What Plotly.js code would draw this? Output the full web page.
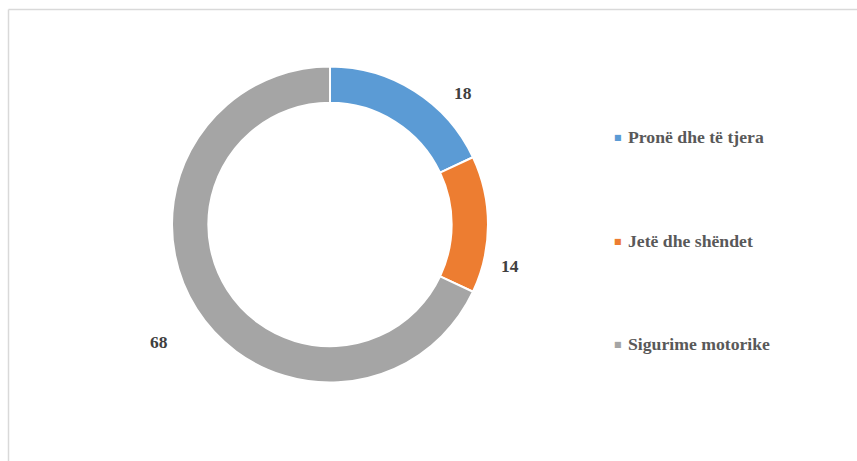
<!DOCTYPE html>
<html>
<head>
<meta charset="utf-8">
<script src="https://cdn.plot.ly/plotly-3.0.1.min.js"></script>
<style>html,body{margin:0;padding:0;background:#fff;}#chart{width:857px;height:461px;}</style>
</head>
<body>
<div id="chart"></div>
<script>
const categories = ["Pronë dhe të tjera", "Jetë dhe shëndet", "Sigurime motorike"];
const values = [18, 14, 68];
const colors = ["#5B9BD5", "#ED7D31", "#A5A5A5"];

const W = 857, H = 461;
const cx = 330, cy = 224.5, R = 158;
const px = x => x / W;
const py = y => 1 - y / H;

// label placement (layout positions, in pixels)
const labelPos = [[463, 93], [510, 266], [159, 342]];
const legendY = [137, 241, 344];
const legendX = 626;

const annotations = [];
values.forEach((v, i) => {
  annotations.push({
    xref: 'paper', yref: 'paper', x: px(labelPos[i][0]), y: py(labelPos[i][1]),
    xanchor: 'center', yanchor: 'middle', showarrow: false,
    text: '<b>' + String(v) + '</b>',
    font: {family: 'Liberation Serif, Times New Roman, serif', size: 17.5, color: '#404040'}
  });
});
categories.forEach((c, i) => {
  annotations.push({
    xref: 'paper', yref: 'paper', x: px(legendX - 2), y: py(legendY[i]),
    xanchor: 'right', yanchor: 'middle', showarrow: false,
    text: '■', font: {family: 'DejaVu Sans', size: 8, color: colors[i]}
  });
  annotations.push({
    xref: 'paper', yref: 'paper', x: px(legendX), y: py(legendY[i]),
    xanchor: 'left', yanchor: 'middle', showarrow: false,
    text: '<b>' + c + '</b>',
    font: {family: 'Liberation Serif, Times New Roman, serif', size: 17.7, color: '#595959'}
  });
});

const data = [{
  type: 'pie',
  labels: categories,
  values: values,
  hole: 0.77,
  sort: false,
  direction: 'clockwise',
  rotation: 0,
  textinfo: 'none',
  hoverinfo: 'label+value',
  marker: {colors: colors, line: {color: '#ffffff', width: 2}},
  domain: {x: [px(cx - R), px(cx + R)], y: [py(cy + R), py(cy - R)]},
  showlegend: false
}];

const layout = {
  width: W, height: H,
  margin: {l: 0, r: 0, t: 0, b: 0},
  paper_bgcolor: '#ffffff',
  showlegend: false,
  annotations: annotations,
  shapes: [
    {type: 'line', xref: 'paper', yref: 'paper', x0: px(8.5), x1: 1.01, y0: py(9.5), y1: py(9.5), line: {color: '#D9D9D9', width: 1.5}},
    {type: 'line', xref: 'paper', yref: 'paper', x0: px(8.5), x1: px(8.5), y0: py(9.5), y1: -0.01, line: {color: '#D9D9D9', width: 1.5}}
  ]
};

Plotly.newPlot('chart', data, layout, {displayModeBar: false, staticPlot: true});
</script>
</body>
</html>
